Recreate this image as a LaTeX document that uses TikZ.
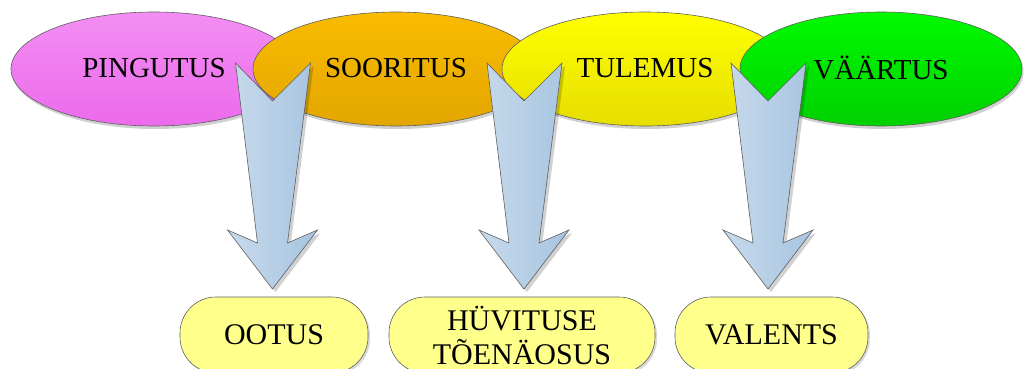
\documentclass[tikz,border=0pt]{standalone}
\usepackage{fontspec}
\setmainfont{Liberation Serif}
\usetikzlibrary{shapes.geometric,shadows}
\definecolor{pinkT}{RGB}{243,142,243}
\definecolor{pinkB}{RGB}{236,106,236}
\definecolor{orT}{RGB}{250,188,0}
\definecolor{orB}{RGB}{226,166,0}
\definecolor{yeT}{RGB}{255,255,0}
\definecolor{yeB}{RGB}{230,222,0}
\definecolor{grT}{RGB}{0,250,0}
\definecolor{grB}{RGB}{0,208,0}
\definecolor{boxY}{RGB}{255,255,140}
\definecolor{arL}{RGB}{200,218,236}
\definecolor{arR}{RGB}{166,196,224}
\definecolor{edge}{RGB}{95,95,95}
\begin{document}
\begin{tikzpicture}[x=1pt,y=-1pt,
  oval/.style={ellipse, draw=edge, line width=0.6pt, minimum width=286pt, minimum height=114pt,
    inner sep=0pt, font=\fontsize{29}{31}\selectfont,
    drop shadow={shadow xshift=1.5pt, shadow yshift=-3pt, opacity=0.18, fill=black}},
  pill/.style={rectangle, rounded corners=36pt, draw=edge, line width=0.6pt, fill=boxY,
    minimum height=76pt, inner sep=0pt, align=center, font=\fontsize{30}{34}\selectfont,
    drop shadow={shadow xshift=2pt, shadow yshift=-2pt, opacity=0.15, fill=black}},
  arrowbody/.style={draw=edge, line width=0.6pt, left color=arL, right color=arR,
    drop shadow={shadow xshift=3pt, shadow yshift=-3pt, opacity=0.18, fill=black}},
  bluearrow/.pic={
    \path[arrowbody] (-37,63) -- (0,101) -- (38,63) -- (15,243) -- (45,230) -- (0,289)
      -- (-45,230) -- (-15,243) -- cycle;
  }]
\useasboundingbox (0,0) rectangle (1028,369);
\clip (0,0) rectangle (1028,369);
\fill[white] (0,0) rectangle (1028,369);

\node[oval, top color=pinkT, bottom color=pinkB] (ping) at (154,69) {\raisebox{1.5pt}{PINGUTUS}};
\node[oval, top color=orT, bottom color=orB] (soor) at (396,69) {\raisebox{1.5pt}{SOORITUS}};
\node[oval, top color=yeT, bottom color=yeB] (tule) at (645,69) {\raisebox{1.5pt}{TULEMUS}};
\node[oval, top color=grT, bottom color=grB, minimum width=282pt] (vaar) at (881,69) {\raisebox{1.5pt}{VÄÄRTUS}};

\node[pill, minimum width=188pt] (ootus) at (274,335) {OOTUS};
\node[pill, minimum width=266pt] (huv) at (522,335) {HÜVITUSE\\TÕENÄOSUS};
\node[pill, minimum width=193pt] (val) at (771.5,335) {VALENTS};

\coordinate (a1) at (272.5,0);
\coordinate (a2) at (524,0);
\coordinate (a3) at (768,0);
\pic at (a1) {bluearrow};
\pic at (a2) {bluearrow};
\pic at (a3) {bluearrow};
\end{tikzpicture}
\end{document}
